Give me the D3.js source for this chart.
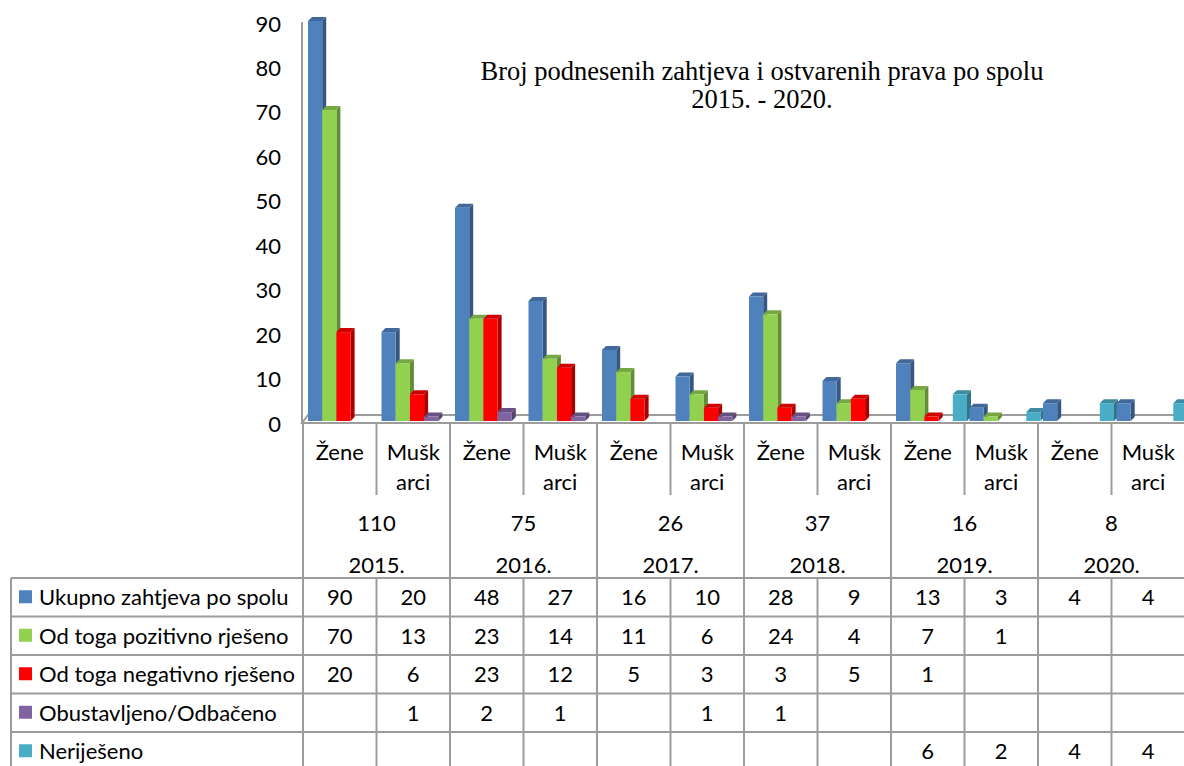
<!DOCTYPE html>
<html>
<head>
<meta charset="utf-8">
<script src="https://cdn.jsdelivr.net/npm/d3@7"></script>
<style>
  body { margin: 0; background: #fff; }
  svg { display: block; }
</style>
</head>
<body>
<svg id="chart" width="1184" height="766"></svg>
<script>
// chart data
const years = ["2015.", "2016.", "2017.", "2018.", "2019.", "2020."];
const yearTotals = [110, 75, 26, 37, 16, 8];
const genderLabels = [["Žene"], ["Mušk", "arci"]];
const seriesNames = ["Ukupno zahtjeva po spolu", "Od toga pozitivno rješeno", "Od toga negativno rješeno", "Obustavljeno/Odbačeno", "Neriješeno"];
const seriesColors = ["#4F81BD", "#92D050", "#FF0000", "#8064A2", "#4BACC6"];
const ukupno       = [90, 20, 48, 27, 16, 10, 28, 9, 13, 3, 4, 4];
const pozitivno    = [70, 13, 23, 14, 11, 6, 24, 4, 7, 1, null, null];
const negativno    = [20, 6, 23, 12, 5, 3, 3, 5, 1, null, null, null];
const obustavljeno = [null, 1, 2, 1, null, 1, 1, null, null, null, null, null];
const nerijeseno   = [null, null, null, null, null, null, null, null, 6, 2, 4, 4];
const yTicks = [0, 10, 20, 30, 40, 50, 60, 70, 80, 90];

const seriesValues = [ukupno, pozitivno, negativno, obustavljeno, nerijeseno];
const nCat = years.length * 2;

const svg = d3.select("#chart");
const font = "Lato, 'Open Sans', sans-serif";
const lineColor = "#9c9c9c";

// scales
const x = d3.scaleBand().domain(d3.range(nCat)).range([303, 1185]);
const xs = d3.scaleBand().domain(d3.range(seriesNames.length)).range([5, 76]);
const y = d3.scaleLinear().domain([0, 90]).range([421, 21]);

const floorFront = 423, floorBack = 415;
const depthX = 4, depthY = 4;

// title
let title = svg.append("text")
  .attr("x", 762)
  .attr("text-anchor", "middle")
  .style("font-family", "'Liberation Serif', 'Times New Roman', serif")
  .style("font-size", "26.5px")
  .attr("fill", "#000");
title.append("tspan").attr("x", 762).attr("y", 80).text("Broj podnesenih zahtjeva i ostvarenih prava po spolu");
title.append("tspan").attr("x", 762).attr("y", 108).text("2015. - 2020.");

// y axis labels
let yAxis = d3.axisLeft(y).tickValues(yTicks).tickSize(0).tickPadding(0);
let gy = svg.append("g").attr("transform", "translate(281,3)").call(yAxis);
gy.select(".domain").remove();
gy.selectAll("text")
  .style("font-family", font)
  .style("font-size", "22px")
  .attr("fill", "#000");

// back wall axis line and floor
svg.append("line")
  .attr("x1", 302).attr("x2", 302)
  .attr("y1", y(90) + 1).attr("y2", floorFront)
  .attr("stroke", lineColor).attr("stroke-width", 2);
svg.append("polyline")
  .attr("points", [[1185, floorBack], [308, floorBack], [302, floorFront], [1185, floorFront]].join(" "))
  .attr("fill", "none")
  .attr("stroke", lineColor).attr("stroke-width", 2);

// bars, drawn left to right so each front face covers the previous side
let bars = [];
d3.range(nCat).forEach(function(c) {
  seriesValues.forEach(function(vals, s) {
    if (vals[c] != null) bars.push({ c: c, s: s, v: vals[c] });
  });
});

let barG = svg.append("g").selectAll("g")
  .data(bars)
  .enter()
  .append("g");

barG.each(function(d) {
  let g = d3.select(this);
  let x0 = x(d.c) + xs(d.s), w = xs.bandwidth();
  let yt = y(d.v), yb = y(0);
  let base = d3.color(seriesColors[d.s]);
  g.append("polygon")
    .attr("points", [[x0 + w, yt], [x0 + w + depthX, yt - depthY], [x0 + w + depthX, yb - depthY], [x0 + w, yb]].join(" "))
    .attr("fill", base.darker(1.1));
  g.append("polygon")
    .attr("points", [[x0, yt], [x0 + depthX, yt - depthY], [x0 + w + depthX, yt - depthY], [x0 + w, yt]].join(" "))
    .attr("fill", base.darker(0.6));
  g.append("rect")
    .attr("x", x0).attr("y", yt)
    .attr("width", w).attr("height", yb - yt)
    .attr("fill", base);
});

// category table under the chart
d3.range(nCat + 1).forEach(function(i) {
  let xx = i < nCat ? x(i) : x.range()[1];
  svg.append("line")
    .attr("x1", xx).attr("x2", xx)
    .attr("y1", floorFront).attr("y2", i % 2 == 0 ? 578 : 495)
    .attr("stroke", lineColor).attr("stroke-width", 2);
});

let catLabels = svg.append("g")
  .style("font-family", font)
  .style("font-size", "22px")
  .attr("fill", "#000")
  .attr("text-anchor", "middle");

d3.range(nCat).forEach(function(c) {
  let t = catLabels.append("text");
  genderLabels[c % 2].forEach(function(part, k) {
    t.append("tspan")
      .attr("x", x(c) + x.bandwidth() / 2)
      .attr("y", 460 + k * 30)
      .text(part);
  });
});

years.forEach(function(yr, i) {
  let cx = x(i * 2) + x.bandwidth();
  catLabels.append("text").attr("x", cx).attr("y", 531).text(yearTotals[i]);
  catLabels.append("text").attr("x", cx).attr("y", 573).text(yr);
});

// data table with legend keys
const rowTop = 578, rowH = 38.5;
d3.range(seriesNames.length + 1).forEach(function(r) {
  svg.append("line")
    .attr("x1", 11).attr("x2", 1185)
    .attr("y1", rowTop + r * rowH).attr("y2", rowTop + r * rowH)
    .attr("stroke", lineColor).attr("stroke-width", 2);
});
svg.append("line")
  .attr("x1", 11).attr("x2", 11)
  .attr("y1", rowTop).attr("y2", 766)
  .attr("stroke", lineColor).attr("stroke-width", 2);
d3.range(nCat + 1).forEach(function(i) {
  let xx = i < nCat ? x(i) : x.range()[1];
  svg.append("line")
    .attr("x1", xx).attr("x2", xx)
    .attr("y1", rowTop).attr("y2", 766)
    .attr("stroke", lineColor).attr("stroke-width", 2);
});

let table = svg.append("g")
  .style("font-family", font)
  .style("font-size", "22px")
  .attr("fill", "#000");

seriesNames.forEach(function(name, r) {
  let cy = rowTop + r * rowH + rowH / 2;
  table.append("rect")
    .attr("x", 19).attr("y", cy - 7)
    .attr("width", 13).attr("height", 13)
    .attr("fill", seriesColors[r]);
  table.append("text")
    .attr("x", 39).attr("y", cy + 8)
    .text(name);
  seriesValues[r].forEach(function(v, c) {
    if (v == null) return;
    table.append("text")
      .attr("x", x(c) + x.bandwidth() / 2)
      .attr("y", cy + 8)
      .attr("text-anchor", "middle")
      .text(v);
  });
});
</script>
</body>
</html>
